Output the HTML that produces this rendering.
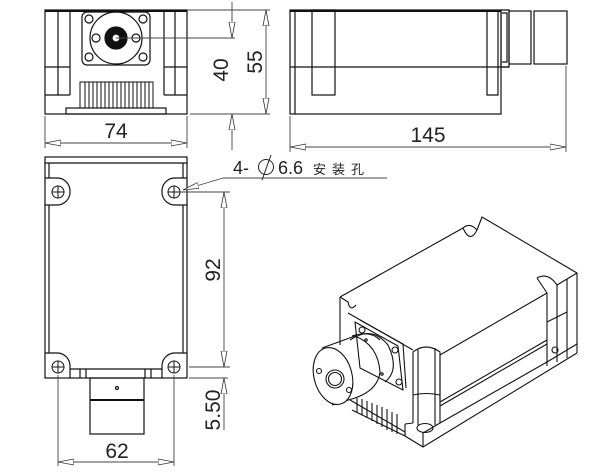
<!DOCTYPE html>
<html><head><meta charset="utf-8"><style>
html,body{margin:0;padding:0;background:#fff;}
svg{display:block;}
text{font-family:"Liberation Sans","Noto Sans CJK SC",sans-serif;fill:#222;}
</style></head><body>
<svg width="600" height="473" viewBox="0 0 600 473" xmlns="http://www.w3.org/2000/svg">
<defs>
<marker id="ar" viewBox="0 0 16 8" refX="16" refY="4" markerWidth="16" markerHeight="8" markerUnits="userSpaceOnUse" orient="auto-start-reverse">
<path d="M0,1 L16,4 L0,7 Z" fill="#fff" stroke="#333" stroke-width="0.8"/>
</marker>
</defs>
<g fill="none" stroke="#111" stroke-width="1.2">
<rect x="45" y="10" width="142" height="104"/>
<line x1="58" y1="10" x2="58" y2="95"/><line x1="70" y1="10" x2="70" y2="95"/>
<line x1="164" y1="10" x2="164" y2="95"/><line x1="175" y1="10" x2="175" y2="95"/>
<line x1="45" y1="67" x2="70" y2="67"/><line x1="164" y1="67" x2="187" y2="67"/>
<line x1="45" y1="95" x2="70" y2="95"/><line x1="164" y1="95" x2="187" y2="95"/>
<line x1="45" y1="11" x2="187" y2="11" stroke-width="2"/>
<rect x="82" y="12" width="68" height="53" rx="5"/>
<circle cx="116" cy="38" r="26"/>
<circle cx="89" cy="19" r="4"/><circle cx="143" cy="19" r="4"/>
<circle cx="89" cy="57" r="4"/><circle cx="143" cy="57" r="4"/>
<circle cx="96" cy="38" r="4"/><circle cx="136" cy="38" r="4"/>
<circle cx="116" cy="38" r="11" fill="#111"/>
<circle cx="116" cy="38" r="4" fill="#fff"/>
<rect x="66" y="108" width="100" height="6"/>
<g stroke-width="1">
<path d="M80,108V82h73v26"/>
<path d="M85,82v26M89,82v26M93,82v26M97,82v26M101,82v26M105,82v26M109,82v26M113,82v26M117,82v26M121,82v26M125,82v26M129,82v26M133,82v26M137,82v26M141,82v26M145,82v26M149,82v26"/>
</g>
<g stroke="#444" stroke-width="0.9">
<line x1="116" y1="38" x2="235" y2="38"/>
<line x1="187" y1="10" x2="270" y2="10"/>
<line x1="190" y1="114" x2="270" y2="114"/>
<line x1="232" y1="2" x2="232" y2="38" marker-end="url(#ar)"/>
<line x1="232" y1="150" x2="232" y2="114" marker-end="url(#ar)"/>
<line x1="266" y1="25" x2="266" y2="10" marker-end="url(#ar)"/>
<line x1="266" y1="25" x2="266" y2="100"/>
<line x1="266" y1="100" x2="266" y2="114" marker-end="url(#ar)"/>
<line x1="45" y1="116" x2="45" y2="148"/><line x1="187" y1="116" x2="187" y2="148"/>
<line x1="60" y1="143" x2="45" y2="143" marker-end="url(#ar)"/>
<line x1="60" y1="143" x2="172" y2="143"/>
<line x1="172" y1="143" x2="187" y2="143" marker-end="url(#ar)"/>
</g>
<rect x="290" y="10" width="211" height="104"/>
<line x1="290" y1="11" x2="501" y2="11" stroke-width="2"/>
<line x1="295" y1="10" x2="295" y2="114"/>
<line x1="290" y1="67" x2="509" y2="67"/>
<rect x="312" y="10" width="23" height="85"/>
<path d="M487,10V95H498V10"/>
<line x1="501" y1="10" x2="501" y2="67"/>
<path d="M501,67H509V10H501"/>
<path d="M502,13H507V62H502"/>
<rect x="509" y="11" width="22" height="53"/>
<rect x="534" y="11" width="33" height="53"/>
<g stroke="#444" stroke-width="0.9">
<line x1="290" y1="116" x2="290" y2="152"/><line x1="566" y1="66" x2="566" y2="152"/>
<line x1="305" y1="147" x2="290" y2="147" marker-end="url(#ar)"/>
<line x1="305" y1="147" x2="551" y2="147"/>
<line x1="551" y1="147" x2="566" y2="147" marker-end="url(#ar)"/>
</g>
<rect x="45" y="157" width="142" height="221"/>
<line x1="45" y1="163" x2="187" y2="163"/>
<line x1="49" y1="163" x2="49" y2="178"/><line x1="183" y1="163" x2="183" y2="178"/>
<line x1="49" y1="205" x2="49" y2="353"/><line x1="183" y1="205" x2="183" y2="353"/>
<path d="M45,178H58A13,13 0 0 1 70,191V193A13,13 0 0 1 58,205H45"/>
<path d="M187,178H174A13,13 0 0 0 162,191V193A13,13 0 0 0 174,205H187"/>
<path d="M45,353H58A13,13 0 0 1 70,366V378"/>
<path d="M187,353H174A13,13 0 0 0 162,366V378"/>
<g stroke-width="1">
<circle cx="58" cy="192" r="6"/><path d="M52,192h12M58,186v12"/>
<circle cx="174" cy="192" r="6"/><path d="M168,192h12M174,186v12"/>
<circle cx="58" cy="367" r="6"/><path d="M52,367h12M58,361v12"/>
<circle cx="174" cy="367" r="6"/><path d="M168,367h12M174,361v12"/>
</g>
<path d="M70,369H162M80,369V378M86,369V378M145,369V378M151,369V378"/>
<rect x="90" y="378" width="54" height="56"/>
<line x1="90" y1="400" x2="144" y2="400" stroke-width="2"/>
<circle cx="117" cy="388" r="1.5"/>
<g stroke="#444" stroke-width="0.9">
<line x1="180" y1="192" x2="230" y2="192"/>
<line x1="189" y1="367" x2="230" y2="367"/>
<line x1="224" y1="210" x2="224" y2="192" marker-end="url(#ar)"/>
<line x1="224" y1="210" x2="224" y2="350"/>
<line x1="224" y1="350" x2="224" y2="367" marker-end="url(#ar)"/>
<line x1="224" y1="430" x2="224" y2="378" marker-end="url(#ar)"/>
<line x1="189" y1="378" x2="228" y2="378"/>
<line x1="58" y1="375" x2="58" y2="466"/><line x1="174" y1="375" x2="174" y2="466"/>
<line x1="73" y1="462" x2="58" y2="462" marker-end="url(#ar)"/>
<line x1="73" y1="462" x2="159" y2="462"/>
<line x1="159" y1="462" x2="174" y2="462" marker-end="url(#ar)"/>
<line x1="387" y1="178" x2="223" y2="178"/>
<line x1="223" y1="178" x2="183" y2="190" marker-end="url(#ar)"/>
</g>
<!-- ISOMETRIC VIEW -->
<g stroke-width="1.1" stroke-linejoin="round">
<path d="M340,297 L463,228 Q470,244 477,230 L482,217 L577,273 L567,279"/>
<path d="M463,228 Q470,222 477,230"/>
<path d="M567,279 L557,285 Q548,272 537,278"/>
<path d="M537,278 L547,293 L440,355"/>
<path d="M577,273 L577,353"/>
<path d="M567,279 L567,358"/>
<path d="M557,285 L557,362 M547,293 L547,366"/>
<path d="M547,322 L567,312"/>
<circle cx="555" cy="350" r="3"/>
<path d="M440,355 L440,402"/>
<path d="M440,402 L547,340"/>
<path d="M440,406 L547,344"/>
<path d="M577,353 L423,447 L405,436"/>
<path d="M423,447 L423,433 L440,423 L547,362 L577,344"/>
<path d="M405,436 L405,424"/>
<path d="M413,423 V352 Q426,342 440,352 V423"/>
<path d="M418,350 V425 M435,348 V425"/>
<path d="M413,395 Q426,392 440,395"/>
<ellipse cx="425" cy="428" rx="8" ry="4.5"/>
<path d="M405,424 L413,423"/>
<path d="M340,297 L340,345"/>
<path d="M340,297 L348,302 Q350,312 356,305"/>
<path d="M348,313 L413,350"/>
<path d="M355,322 L398,346 L403,390 L360,368 Z"/>
<path d="M360,320 L403,344 L406,388"/>
<circle cx="362" cy="330" r="3"/><circle cx="395" cy="350" r="3"/><circle cx="399" cy="382" r="3"/>
<path d="M350,340 Q372,325 388,345 Q400,370 385,382"/>
<path d="M352,336 Q370,330 380,340"/>
<circle cx="366" cy="340" r="1.2"/><circle cx="382" cy="374" r="1.2"/>
<path d="M322,348 L355,336 Q378,345 380,372 Q378,390 355,398 L332,405"/>
<ellipse cx="333" cy="376" rx="19" ry="29" transform="rotate(-15 333 376)" fill="#fff"/>
<circle cx="335" cy="379" r="9"/><circle cx="335" cy="379" r="6.5"/>
<circle cx="319" cy="371" r="2.5"/><circle cx="349" cy="390" r="2.5"/>
<path d="M350,400 L405,432 L405,436 L352,410"/>
<path d="M357,398 V412M362,399 V415M367,401 V418M372,403 V421M377,405 V424M382,407 V427M387,409 V430M392,412 V432M397,414 V434"/>
</g>
</g>
<text x="116" y="138" font-size="21" text-anchor="middle">74</text>
<text x="428" y="142" font-size="21" text-anchor="middle">145</text>
<text x="117" y="458" font-size="21" text-anchor="middle">62</text>
<text transform="translate(228,70) rotate(-90)" font-size="21" text-anchor="middle">40</text>
<text transform="translate(262,62) rotate(-90)" font-size="21" text-anchor="middle">55</text>
<text transform="translate(220,270) rotate(-90)" font-size="21" text-anchor="middle">92</text>
<text transform="translate(220,410) rotate(-90)" font-size="21" text-anchor="middle">5.50</text>
<text x="233" y="174" font-size="18">4-</text>
<g fill="none" stroke="#222" stroke-width="1"><circle cx="266" cy="167" r="7.5"/><line x1="262" y1="180" x2="271" y2="155"/></g>
<text x="278" y="174" font-size="18">6.6</text>
<text x="313" y="174" font-size="13" letter-spacing="6">安装孔</text>
</svg>
</body></html>
